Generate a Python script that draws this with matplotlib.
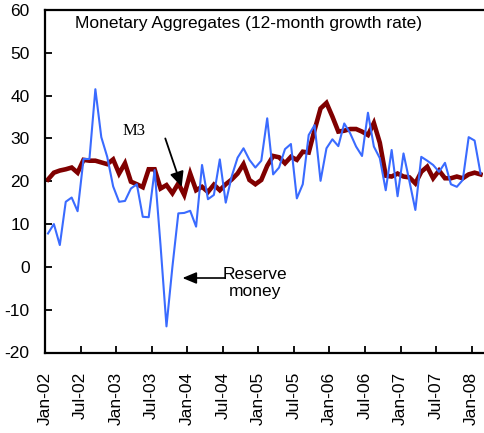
import matplotlib
matplotlib.use("Agg")
import matplotlib.pyplot as plt
import numpy as np

# Monthly data Jan-2002 .. Feb-2008 (12-month growth rate, %)
reserve_money = [7.8, 10.0, 5.1, 15.2, 16.2, 13.0, 25.2, 25.2, 41.5, 30.3, 25.7, 18.8,
                 15.2, 15.4, 18.3, 19.3, 11.7, 11.6, 22.6, 5.0, -13.9, 0.0, 12.5, 12.6,
                 13.1, 9.4, 23.8, 15.8, 16.8, 25.1, 15.0, 21.1, 25.5, 27.7, 25.0, 23.2,
                 24.8, 34.7, 21.6, 23.2, 27.5, 28.7, 16.0, 19.3, 30.8, 33.1, 20.1, 27.7,
                 29.8, 28.2, 33.5, 31.2, 28.1, 25.9, 36.0, 28.1, 25.4, 17.9, 27.3, 16.5,
                 26.5, 20.0, 13.3, 25.7, 24.8, 23.8, 22.2, 24.3, 19.3, 18.7, 20.3, 30.3,
                 29.5, 21.8]
m3 = [20.4, 22.0, 22.5, 22.8, 23.2, 22.0, 25.0, 24.8, 24.8, 24.4, 24.0, 25.1,
      21.8, 24.2, 19.9, 19.3, 18.6, 22.8, 22.8, 18.3, 19.1, 17.2, 19.5, 16.8,
      21.8, 17.9, 18.7, 17.5, 19.2, 17.9, 19.3, 20.4, 21.8, 24.0, 20.3, 19.3,
      20.3, 23.6, 25.9, 25.6, 24.2, 25.7, 25.0, 26.9, 26.7, 32.0, 37.0, 38.3,
      35.1, 31.6, 31.8, 32.2, 32.2, 31.6, 30.8, 33.6, 29.0, 21.3, 21.1, 21.8,
      21.1, 20.9, 19.5, 22.2, 23.4, 20.7, 22.5, 20.7, 20.7, 21.1, 20.7, 21.6,
      22.0, 21.6]
tick_labels = ["Jan-02", "Jul-02", "Jan-03", "Jul-03", "Jan-04", "Jul-04", "Jan-05",
               "Jul-05", "Jan-06", "Jul-06", "Jan-07", "Jul-07", "Jan-08"]
y_ticks = [-20, -10, 0, 10, 20, 30, 40, 50, 60]

sans = ["Liberation Sans", "DejaVu Sans"]
serif = ["Liberation Serif", "DejaVu Serif"]
plt.rcParams["font.family"] = sans
plt.rcParams["axes.unicode_minus"] = False

fig = plt.figure(figsize=(4.84, 4.33), dpi=100)
ax = fig.add_axes([45 / 484, 80.5 / 433, 438.5 / 484, 342.5 / 433])

n = len(m3)
x = np.arange(n) + 0.5
ax.plot(x, m3, color="#800000", lw=3.3, solid_joinstyle="miter", zorder=2)
ax.plot(x, reserve_money, color="#3a6bff", lw=1.5, zorder=3)

ax.set_xlim(0, n)
ax.set_ylim(-20, 60)
ax.set_yticks(y_ticks)
ax.set_xticks(np.arange(0, n, 6))
ax.set_xticklabels(tick_labels, rotation=90, fontsize=12.5)
ax.tick_params(axis="y", direction="in", length=5, width=1.3, labelsize=12.5, pad=11)
ax.tick_params(axis="x", direction="in", length=5, width=1.3, pad=14)
for s in ["left", "bottom", "top"]:
    ax.spines[s].set_linewidth(1.6)
ax.spines["right"].set_visible(False)

ax.text(30 / 438.5, 0.9466, "Monetary Aggregates (12-month growth rate)",
        transform=ax.transAxes, fontsize=12.5, va="baseline", ha="left")

ax.text(15.1, 31.7, "M3", family=serif, fontsize=12, ha="center", va="center")
ax.annotate("", xy=(23.07, 18.7), xytext=(20.3, 30.0), zorder=6,
            arrowprops=dict(arrowstyle="-|>,head_length=0.6,head_width=0.28",
                            mutation_scale=15, color="black", lw=1.3,
                            shrinkA=0, shrinkB=0))

ax.text(35.4, -3.8, "Reserve\nmoney", fontsize=12.5, ha="center", va="center",
        multialignment="center")
ax.annotate("", xy=(23.2, -2.6), xytext=(30.3, -2.6), zorder=6,
            arrowprops=dict(arrowstyle="-|>,head_length=0.6,head_width=0.25",
                            mutation_scale=14, color="black", lw=1.2,
                            shrinkA=0, shrinkB=0))

fig.savefig("out.png", dpi=100)
